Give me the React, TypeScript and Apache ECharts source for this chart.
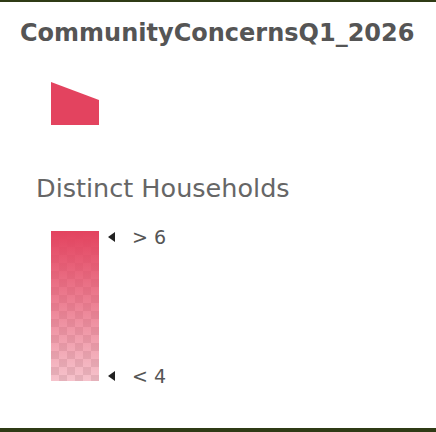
import React, { useEffect, useRef } from "react";
import * as echarts from "echarts";

const titleText = "CommunityConcernsQ1_2026";
const fieldLabel = "Distinct Households";
const breakLabels = ["> 6", "< 4"];
const symbolColor = "#e3435f";
const rampAlphas = [1, 0.32];

export default function App() {
  const ref = useRef<HTMLDivElement>(null);
  useEffect(() => {
    if (!ref.current) return;
    const chart = echarts.init(ref.current, null, { renderer: "svg" });
    const barX = 51, barY = 231, barW = 48, barH = 150, cell = 8;
    const checker: any[] = [];
    for (let r = 0; r * cell < barH; r++) {
      for (let c = 0; c * cell < barW; c++) {
        checker.push({
          type: "rect",
          shape: { x: barX + c * cell, y: barY + r * cell, width: Math.min(cell, barW - c * cell), height: Math.min(cell, barH - r * cell) },
          style: { fill: (r + c) % 2 === 0 ? "#ffffff" : "#e6e6e6" },
          silent: true,
        });
      }
    }
    const graphic: any[] = [
      { type: "rect", shape: { x: 0, y: 0, width: 436, height: 2 }, style: { fill: "#2f3b15" } },
      { type: "rect", shape: { x: 0, y: 428, width: 436, height: 4 }, style: { fill: "#2f3b15" } },
      {
        type: "text", x: 20, y: 33,
        style: { text: titleText, font: "bold 24px 'DejaVu Sans'", fill: "#555555", textVerticalAlign: "middle" },
      },
      {
        type: "polygon",
        shape: { points: [[51, 82], [51, 125], [99, 125], [99, 100]] },
        style: { fill: symbolColor },
      },
      {
        type: "text", x: 36, y: 188,
        style: { text: fieldLabel, font: "400 25.5px 'DejaVu Sans'", fill: "#666666", textVerticalAlign: "middle" },
      },
      ...checker,
      {
        type: "rect",
        shape: { x: barX, y: barY, width: barW, height: barH },
        style: {
          fill: new echarts.graphic.LinearGradient(0, 0, 0, 1, [
            { offset: 0, color: `rgba(227,67,95,${rampAlphas[0]})` },
            { offset: 1, color: `rgba(227,67,95,${rampAlphas[1]})` },
          ]),
        },
      },
      ...breakLabels.flatMap((lab, i) => {
        const y = i === 0 ? 237 : 376;
        return [
          { type: "polygon", shape: { points: [[108, y], [115, y - 5], [115, y + 5]] }, style: { fill: "#222" } },
          { type: "text", x: 132, y, style: { text: lab, font: "400 19px 'DejaVu Sans'", fill: "#555555", textVerticalAlign: "middle" } },
        ];
      }),
    ];
    chart.setOption({ animation: false, graphic });
    return () => chart.dispose();
  }, []);
  return (
    <div style={{ position: "fixed", left: 0, top: 0, width: 436, height: 432, background: "#fff" }}>
      <div ref={ref} style={{ width: 436, height: 432 }} />
    </div>
  );
}
